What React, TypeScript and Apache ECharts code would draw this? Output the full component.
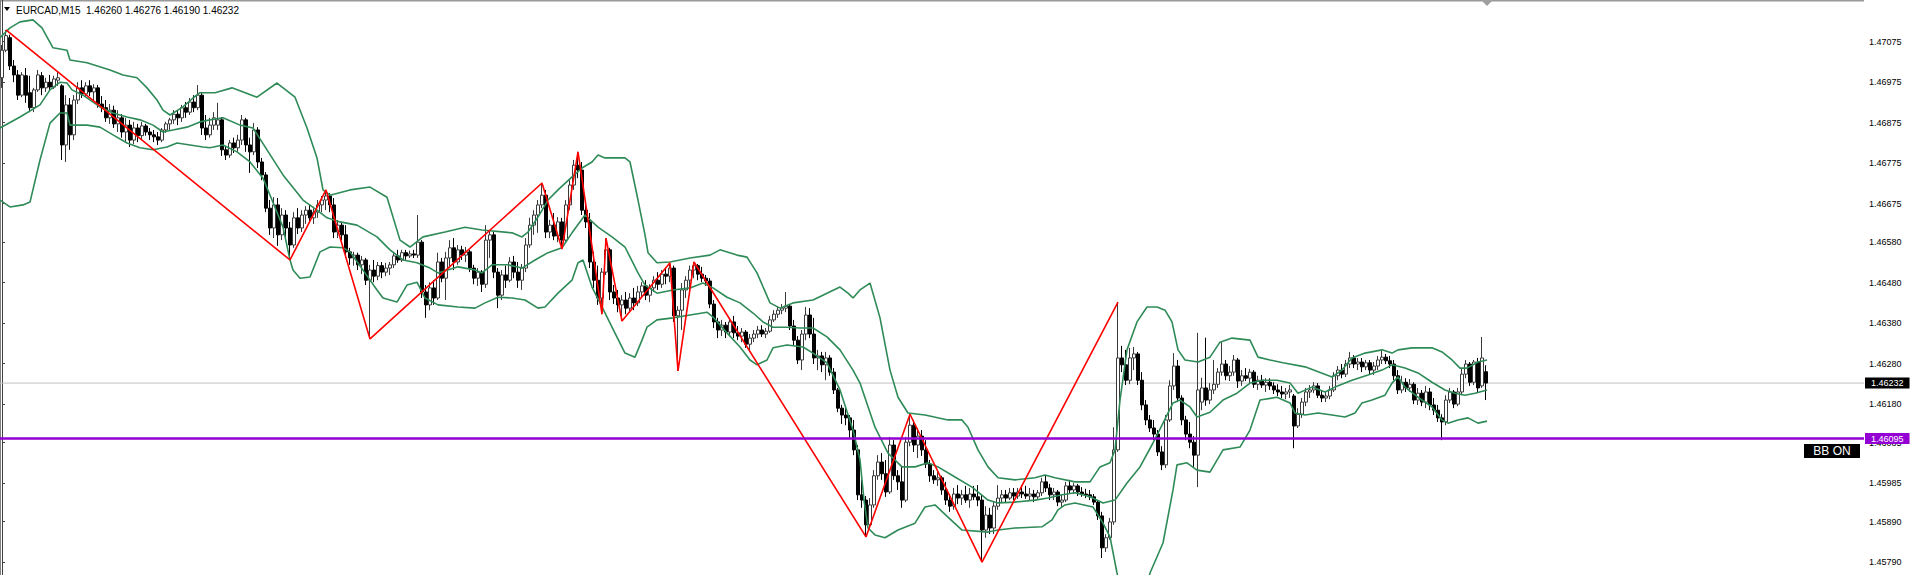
import React, { useEffect, useRef } from "react";
import * as echarts from "echarts";

const chartTitle = "EURCAD,M15  1.46260 1.46276 1.46190 1.46232";
const lastPrice = 1.46232;
const levelPrice = 1.46095;
const levelTag = "BB ON";
const yMin = 1.45758;
const yMax = 1.47178;
const slotCount = 466;
const yTicks = [1.47075, 1.46975, 1.46875, 1.46775, 1.46675, 1.4658, 1.4648, 1.4638, 1.4628, 1.4618, 1.46085, 1.45985, 1.4589, 1.4579];

// [open, high, low, close]
const ohlc: number[][] = [
  [1.46986,1.47067,1.46961,1.47054],[1.47054,1.47104,1.47049,1.47090],[1.47085,1.47092,1.47005,1.47015],[1.47015,1.47030,1.46975,1.46993],
  [1.46993,1.47005,1.46931,1.46943],[1.46943,1.47000,1.46938,1.46993],[1.46991,1.47010,1.46924,1.46943],[1.46949,1.46991,1.46901,1.46912],
  [1.46912,1.46961,1.46901,1.46956],[1.46956,1.47005,1.46951,1.46993],[1.46991,1.47000,1.46943,1.46961],[1.46961,1.46986,1.46951,1.46975],
  [1.46975,1.46993,1.46956,1.46963],[1.46963,1.46991,1.46958,1.46983],[1.46980,1.47000,1.46966,1.46986],[1.46966,1.46970,1.46783,1.46820],
  [1.46820,1.46943,1.46778,1.46919],[1.46919,1.46936,1.46808,1.46845],[1.46845,1.46943,1.46832,1.46931],[1.46931,1.46975,1.46921,1.46961],
  [1.46961,1.46980,1.46936,1.46946],[1.46946,1.46975,1.46938,1.46966],[1.46966,1.46980,1.46941,1.46951],[1.46951,1.46970,1.46931,1.46961],
  [1.46961,1.46968,1.46912,1.46921],[1.46921,1.46941,1.46901,1.46912],[1.46912,1.46931,1.46877,1.46887],[1.46887,1.46921,1.46872,1.46906],
  [1.46906,1.46917,1.46862,1.46872],[1.46872,1.46906,1.46852,1.46887],[1.46887,1.46896,1.46838,1.46852],[1.46852,1.46887,1.46827,1.46869],
  [1.46869,1.46882,1.46815,1.46832],[1.46832,1.46877,1.46822,1.46862],[1.46862,1.46872,1.46827,1.46843],[1.46843,1.46877,1.46832,1.46867],
  [1.46867,1.46872,1.46843,1.46852],[1.46852,1.46862,1.46832,1.46845],[1.46845,1.46857,1.46827,1.46840],[1.46840,1.46852,1.46820,1.46832],
  [1.46832,1.46862,1.46827,1.46857],[1.46857,1.46877,1.46850,1.46872],[1.46872,1.46887,1.46857,1.46882],[1.46882,1.46906,1.46872,1.46896],
  [1.46896,1.46906,1.46869,1.46887],[1.46887,1.46919,1.46877,1.46912],[1.46912,1.46926,1.46887,1.46901],[1.46901,1.46936,1.46894,1.46926],
  [1.46926,1.46943,1.46901,1.46912],[1.46912,1.46968,1.46906,1.46943],[1.46943,1.46951,1.46845,1.46862],[1.46862,1.46894,1.46832,1.46845],
  [1.46845,1.46887,1.46838,1.46869],[1.46869,1.46901,1.46857,1.46887],[1.46869,1.46924,1.46857,1.46882],[1.46882,1.46889,1.46793,1.46808],
  [1.46808,1.46817,1.46783,1.46795],[1.46795,1.46832,1.46788,1.46825],[1.46825,1.46838,1.46800,1.46813],[1.46813,1.46845,1.46803,1.46832],
  [1.46832,1.46894,1.46820,1.46882],[1.46882,1.46887,1.46803,1.46820],[1.46820,1.46838,1.46751,1.46803],[1.46803,1.46874,1.46795,1.46857],
  [1.46857,1.46864,1.46763,1.46778],[1.46778,1.46788,1.46733,1.46746],[1.46746,1.46753,1.46654,1.46664],[1.46664,1.46684,1.46598,1.46615],
  [1.46615,1.46691,1.46590,1.46672],[1.46672,1.46689,1.46571,1.46598],[1.46598,1.46664,1.46585,1.46647],[1.46647,1.46659,1.46590,1.46615],
  [1.46615,1.46630,1.46536,1.46573],[1.46573,1.46654,1.46566,1.46640],[1.46640,1.46664,1.46600,1.46615],[1.46615,1.46659,1.46605,1.46647],
  [1.46647,1.46669,1.46625,1.46659],[1.46659,1.46672,1.46630,1.46640],[1.46640,1.46664,1.46625,1.46654],[1.46654,1.46684,1.46640,1.46672],
  [1.46672,1.46694,1.46654,1.46684],[1.46684,1.46709,1.46659,1.46694],[1.46694,1.46701,1.46654,1.46672],[1.46672,1.46689,1.46590,1.46605],
  [1.46605,1.46635,1.46590,1.46622],[1.46622,1.46630,1.46585,1.46598],[1.46598,1.46622,1.46541,1.46556],[1.46556,1.46566,1.46524,1.46541],
  [1.46541,1.46556,1.46522,1.46548],[1.46548,1.46554,1.46511,1.46524],[1.46524,1.46546,1.46501,1.46536],[1.46536,1.46541,1.46474,1.46486],
  [1.46486,1.46524,1.46341,1.46511],[1.46511,1.46536,1.46481,1.46496],[1.46496,1.46531,1.46486,1.46522],[1.46522,1.46531,1.46491,1.46506],
  [1.46506,1.46529,1.46496,1.46516],[1.46516,1.46531,1.46499,1.46524],[1.46524,1.46556,1.46516,1.46546],[1.46546,1.46561,1.46529,1.46536],
  [1.46536,1.46561,1.46531,1.46554],[1.46554,1.46561,1.46536,1.46546],[1.46546,1.46559,1.46541,1.46551],[1.46551,1.46561,1.46541,1.46548],
  [1.46548,1.46647,1.46541,1.46580],[1.46580,1.46585,1.46442,1.46457],[1.46457,1.46474,1.46393,1.46425],[1.46425,1.46481,1.46412,1.46467],
  [1.46467,1.46486,1.46425,1.46442],[1.46442,1.46554,1.46437,1.46531],[1.46531,1.46541,1.46481,1.46491],[1.46491,1.46556,1.46437,1.46541],
  [1.46541,1.46585,1.46516,1.46566],[1.46566,1.46590,1.46511,1.46531],[1.46531,1.46573,1.46524,1.46561],[1.46561,1.46571,1.46536,1.46548],
  [1.46548,1.46568,1.46531,1.46556],[1.46556,1.46561,1.46506,1.46516],[1.46516,1.46524,1.46476,1.46491],[1.46491,1.46516,1.46472,1.46506],
  [1.46506,1.46511,1.46457,1.46476],[1.46476,1.46622,1.46467,1.46585],[1.46585,1.46610,1.46541,1.46598],[1.46598,1.46605,1.46491,1.46506],
  [1.46506,1.46516,1.46417,1.46449],[1.46449,1.46511,1.46437,1.46499],[1.46499,1.46522,1.46467,1.46486],[1.46486,1.46543,1.46481,1.46531],
  [1.46531,1.46546,1.46491,1.46506],[1.46506,1.46531,1.46467,1.46486],[1.46486,1.46526,1.46462,1.46516],[1.46516,1.46590,1.46506,1.46573],
  [1.46573,1.46640,1.46566,1.46622],[1.46622,1.46659,1.46598,1.46647],[1.46647,1.46684,1.46603,1.46672],[1.46672,1.46726,1.46664,1.46696],
  [1.46696,1.46709,1.46590,1.46605],[1.46605,1.46635,1.46590,1.46622],[1.46622,1.46652,1.46585,1.46595],[1.46595,1.46642,1.46580,1.46630],
  [1.46630,1.46640,1.46563,1.46585],[1.46585,1.46684,1.46580,1.46672],[1.46672,1.46733,1.46659,1.46721],[1.46721,1.46783,1.46709,1.46770],
  [1.46770,1.46803,1.46738,1.46758],[1.46758,1.46778,1.46647,1.46659],[1.46659,1.46672,1.46615,1.46630],[1.46630,1.46652,1.46516,1.46531],
  [1.46531,1.46556,1.46467,1.46486],[1.46486,1.46522,1.46425,1.46442],[1.46442,1.46516,1.46402,1.46506],[1.46506,1.46590,1.46499,1.46561],
  [1.46561,1.46566,1.46437,1.46457],[1.46457,1.46474,1.46427,1.46442],[1.46442,1.46462,1.46407,1.46425],[1.46425,1.46449,1.46385,1.46437],
  [1.46437,1.46457,1.46402,1.46417],[1.46417,1.46454,1.46407,1.46442],[1.46442,1.46467,1.46412,1.46430],[1.46430,1.46472,1.46422,1.46457],
  [1.46457,1.46481,1.46442,1.46472],[1.46472,1.46486,1.46437,1.46449],[1.46449,1.46476,1.46432,1.46467],[1.46467,1.46496,1.46457,1.46486],
  [1.46486,1.46506,1.46462,1.46476],[1.46476,1.46511,1.46467,1.46501],[1.46501,1.46516,1.46476,1.46496],[1.46496,1.46529,1.46481,1.46516],
  [1.46516,1.46522,1.46383,1.46398],[1.46398,1.46422,1.46262,1.46412],[1.46412,1.46479,1.46363,1.46462],[1.46462,1.46496,1.46442,1.46486],
  [1.46486,1.46522,1.46462,1.46511],[1.46511,1.46531,1.46491,1.46522],[1.46522,1.46526,1.46486,1.46501],[1.46501,1.46519,1.46481,1.46491],
  [1.46491,1.46499,1.46472,1.46484],[1.46484,1.46491,1.46417,1.46427],[1.46427,1.46437,1.46368,1.46383],[1.46383,1.46393,1.46343,1.46363],
  [1.46363,1.46388,1.46348,1.46375],[1.46375,1.46383,1.46343,1.46358],[1.46358,1.46393,1.46348,1.46383],[1.46383,1.46398,1.46343,1.46356],
  [1.46356,1.46373,1.46338,1.46348],[1.46348,1.46368,1.46333,1.46358],[1.46358,1.46363,1.46319,1.46328],[1.46328,1.46353,1.46314,1.46343],
  [1.46343,1.46363,1.46333,1.46353],[1.46353,1.46373,1.46343,1.46363],[1.46363,1.46375,1.46346,1.46353],[1.46353,1.46368,1.46343,1.46360],
  [1.46360,1.46398,1.46356,1.46388],[1.46388,1.46412,1.46383,1.46402],[1.46402,1.46422,1.46393,1.46412],[1.46412,1.46427,1.46402,1.46417],
  [1.46417,1.46457,1.46407,1.46422],[1.46422,1.46427,1.46363,1.46373],[1.46373,1.46388,1.46326,1.46338],[1.46338,1.46348,1.46279,1.46289],
  [1.46289,1.46363,1.46264,1.46353],[1.46353,1.46420,1.46338,1.46400],[1.46400,1.46417,1.46343,1.46353],[1.46353,1.46393,1.46279,1.46294],
  [1.46294,1.46314,1.46264,1.46299],[1.46299,1.46309,1.46259,1.46277],[1.46277,1.46309,1.46239,1.46294],[1.46294,1.46301,1.46250,1.46259],
  [1.46259,1.46269,1.46205,1.46215],[1.46215,1.46220,1.46160,1.46170],[1.46170,1.46178,1.46131,1.46153],[1.46153,1.46170,1.46128,1.46146],
  [1.46146,1.46153,1.46097,1.46116],[1.46116,1.46141,1.46054,1.46067],[1.46067,1.46079,1.45943,1.45956],[1.45956,1.45993,1.45924,1.45943],
  [1.45943,1.45953,1.45852,1.45882],[1.45882,1.45948,1.45869,1.45931],[1.45931,1.46017,1.45924,1.46003],[1.46003,1.46054,1.45993,1.46037],
  [1.46037,1.46059,1.45993,1.46008],[1.46008,1.46042,1.45951,1.45963],[1.45963,1.46099,1.45958,1.46079],[1.46079,1.46091,1.45993,1.46003],
  [1.46003,1.46017,1.45968,1.45988],[1.45988,1.46025,1.45924,1.45943],[1.45943,1.46099,1.45938,1.46086],[1.46086,1.46155,1.46076,1.46128],
  [1.46128,1.46141,1.46062,1.46079],[1.46079,1.46121,1.46047,1.46101],[1.46101,1.46116,1.46052,1.46067],[1.46067,1.46091,1.46022,1.46032],
  [1.46032,1.46042,1.45988,1.46003],[1.46003,1.46017,1.45983,1.45993],[1.45993,1.46012,1.45978,1.45998],[1.45998,1.46003,1.45956,1.45968],
  [1.45968,1.45988,1.45931,1.45943],[1.45943,1.45958,1.45914,1.45928],[1.45928,1.45973,1.45919,1.45958],[1.45958,1.45980,1.45933,1.45948],
  [1.45948,1.45968,1.45931,1.45956],[1.45956,1.45978,1.45936,1.45943],[1.45943,1.45973,1.45924,1.45958],[1.45958,1.45978,1.45943,1.45951],
  [1.45951,1.45980,1.45928,1.45943],[1.45943,1.45956,1.45790,1.45869],[1.45869,1.45928,1.45850,1.45906],[1.45906,1.45924,1.45859,1.45874],
  [1.45874,1.45938,1.45859,1.45928],[1.45928,1.45980,1.45919,1.45948],[1.45948,1.45968,1.45936,1.45956],[1.45956,1.45968,1.45938,1.45948],
  [1.45948,1.45973,1.45943,1.45961],[1.45961,1.45973,1.45943,1.45953],[1.45953,1.45973,1.45946,1.45963],[1.45963,1.45980,1.45948,1.45958],
  [1.45958,1.45978,1.45946,1.45953],[1.45953,1.45973,1.45943,1.45958],[1.45958,1.45968,1.45938,1.45951],[1.45951,1.45968,1.45943,1.45961],
  [1.45961,1.45998,1.45953,1.45988],[1.45988,1.46005,1.45963,1.45973],[1.45973,1.45983,1.45943,1.45956],[1.45956,1.45973,1.45943,1.45963],
  [1.45963,1.45968,1.45928,1.45938],[1.45938,1.45956,1.45926,1.45943],[1.45943,1.45988,1.45938,1.45978],[1.45978,1.45993,1.45958,1.45968],
  [1.45968,1.45985,1.45958,1.45978],[1.45978,1.45983,1.45953,1.45963],[1.45963,1.45975,1.45951,1.45958],[1.45958,1.45971,1.45948,1.45956],
  [1.45956,1.45968,1.45943,1.45951],[1.45951,1.45958,1.45931,1.45938],[1.45938,1.45943,1.45894,1.45904],[1.45904,1.45914,1.45800,1.45825],
  [1.45825,1.45859,1.45815,1.45850],[1.45850,1.45899,1.45845,1.45889],[1.45889,1.46123,1.45882,1.46067],[1.46067,1.46432,1.46062,1.46294],
  [1.46294,1.46324,1.46259,1.46277],[1.46277,1.46314,1.46227,1.46239],[1.46239,1.46319,1.46229,1.46294],[1.46294,1.46321,1.46264,1.46304],
  [1.46304,1.46309,1.46227,1.46239],[1.46239,1.46259,1.46165,1.46178],[1.46178,1.46190,1.46128,1.46141],[1.46141,1.46153,1.46111,1.46121],
  [1.46121,1.46141,1.46091,1.46106],[1.46106,1.46116,1.46052,1.46062],[1.46062,1.46076,1.46017,1.46030],[1.46030,1.46153,1.46022,1.46141],
  [1.46141,1.46239,1.46136,1.46225],[1.46225,1.46306,1.46215,1.46274],[1.46274,1.46289,1.46185,1.46195],[1.46195,1.46202,1.46128,1.46141],
  [1.46141,1.46151,1.46091,1.46106],[1.46106,1.46136,1.46071,1.46086],[1.46086,1.46101,1.46025,1.46054],[1.46054,1.46356,1.45975,1.46215],
  [1.46185,1.46245,1.46165,1.46220],[1.46220,1.46344,1.46176,1.46190],[1.46190,1.46232,1.46180,1.46215],[1.46215,1.46289,1.46205,1.46229],
  [1.46229,1.46269,1.46220,1.46259],[1.46259,1.46333,1.46250,1.46279],[1.46279,1.46289,1.46239,1.46250],[1.46250,1.46274,1.46237,1.46259],
  [1.46259,1.46301,1.46250,1.46289],[1.46289,1.46294,1.46220,1.46237],[1.46237,1.46264,1.46225,1.46250],[1.46250,1.46269,1.46237,1.46244],
  [1.46244,1.46267,1.46229,1.46259],[1.46259,1.46264,1.46220,1.46229],[1.46229,1.46250,1.46215,1.46239],[1.46239,1.46252,1.46220,1.46227],
  [1.46227,1.46244,1.46210,1.46234],[1.46234,1.46244,1.46215,1.46225],[1.46225,1.46234,1.46205,1.46215],[1.46215,1.46229,1.46200,1.46210],
  [1.46210,1.46225,1.46195,1.46205],[1.46205,1.46220,1.46192,1.46210],[1.46210,1.46227,1.46195,1.46215],[1.46200,1.46205,1.46071,1.46126],
  [1.46126,1.46170,1.46121,1.46155],[1.46155,1.46195,1.46146,1.46185],[1.46185,1.46220,1.46175,1.46210],[1.46210,1.46227,1.46195,1.46215],
  [1.46215,1.46234,1.46207,1.46225],[1.46225,1.46232,1.46195,1.46202],[1.46202,1.46215,1.46185,1.46195],[1.46195,1.46210,1.46185,1.46200],
  [1.46200,1.46225,1.46192,1.46215],[1.46215,1.46259,1.46210,1.46250],[1.46250,1.46274,1.46239,1.46264],[1.46264,1.46279,1.46244,1.46254],
  [1.46254,1.46289,1.46247,1.46279],[1.46279,1.46309,1.46269,1.46294],[1.46294,1.46301,1.46269,1.46279],[1.46279,1.46294,1.46264,1.46284],
  [1.46284,1.46294,1.46259,1.46272],[1.46272,1.46289,1.46264,1.46282],[1.46282,1.46289,1.46254,1.46264],[1.46264,1.46284,1.46252,1.46274],
  [1.46274,1.46299,1.46264,1.46289],[1.46289,1.46314,1.46279,1.46296],[1.46296,1.46304,1.46279,1.46287],[1.46287,1.46299,1.46269,1.46279],
  [1.46279,1.46289,1.46239,1.46250],[1.46250,1.46264,1.46205,1.46215],[1.46215,1.46250,1.46207,1.46234],[1.46234,1.46244,1.46210,1.46220],
  [1.46220,1.46242,1.46210,1.46229],[1.46229,1.46234,1.46180,1.46190],[1.46190,1.46220,1.46178,1.46207],[1.46207,1.46215,1.46175,1.46185],
  [1.46185,1.46225,1.46170,1.46210],[1.46210,1.46220,1.46165,1.46178],[1.46178,1.46195,1.46153,1.46165],[1.46165,1.46178,1.46136,1.46146],
  [1.46146,1.46155,1.46091,1.46136],[1.46136,1.46202,1.46128,1.46190],[1.46190,1.46220,1.46183,1.46210],[1.46210,1.46215,1.46170,1.46180],
  [1.46180,1.46220,1.46175,1.46210],[1.46210,1.46269,1.46202,1.46254],[1.46254,1.46289,1.46244,1.46279],[1.46279,1.46284,1.46225,1.46234],
  [1.46234,1.46289,1.46227,1.46284],[1.46284,1.46294,1.46210,1.46220],[1.46225,1.46346,1.46220,1.46294],[1.46260,1.46276,1.46190,1.46232],
];

// Bollinger bands, read as [bar index, price]
const upperBand: number[][] = [
  [-0.5,1.47085],[2,1.47109],[4.5,1.47124],[7.75,1.47129],[10,1.47109],[12.75,1.4706],[16.25,1.47054],[17,1.4703],[21.25,1.47023],[27,1.47005],
  [30.25,1.46993],[33.75,1.46986],[36.25,1.46961],[38.75,1.46931],[40.25,1.46906],[42,1.46894],[45.25,1.46914],[47.75,1.46936],[49.5,1.46949],[53.25,1.46949],
  [57.5,1.46961],[63.75,1.46938],[68.75,1.46973],[73.25,1.46938],[76.25,1.46862],[78.75,1.46788],[80.25,1.46709],[82,1.46696],[87,1.46709],[92,1.46716],
  [96.25,1.46691],[97.75,1.46642],[99.5,1.46585],[102,1.46568],[105.25,1.46593],[110.75,1.46605],[115.75,1.46617],[120,1.4661],[127.5,1.46603],[130,1.46593],
  [131.5,1.46605],[134,1.46642],[136.5,1.46684],[139,1.46709],[142.5,1.46741],[145,1.46763],[147.5,1.46778],[149,1.46795],[150.75,1.46788],[155.75,1.46788],
  [157,1.46778],[159,1.46684],[160.75,1.46598],[161.5,1.46554],[163.75,1.46529],[167,1.46531],[172,1.46541],[177,1.46548],[179.5,1.46561],[183.75,1.46548],
  [186.25,1.46543],[188.75,1.46504],[192,1.4643],[194.5,1.46417],[197.75,1.4643],[202.75,1.46437],[206.25,1.46454],[209.5,1.46469],[211.5,1.46454],[212.75,1.46442],
  [214.5,1.46462],[217,1.46479],[219.5,1.46393],[222,1.46264],[224,1.46197],[226.5,1.46158],[230.75,1.46153],[236.5,1.46141],[240,1.46141],[241.5,1.46123],
  [244,1.46067],[246.5,1.46025],[249,1.45998],[253.25,1.45993],[258.25,1.45998],[260.75,1.46005],[263.25,1.45998],[268.25,1.45988],[272,1.45988],[274.5,1.46025],
  [277,1.46035],[278.25,1.46067],[279.5,1.4619],[281.25,1.46314],[283.75,1.46383],[286.25,1.4642],[288.75,1.4642],[290.75,1.46412],[292.5,1.46383],[294,1.46314],
  [295.75,1.46289],[299,1.46284],[302,1.46296],[304.5,1.46333],[307.5,1.46343],[312,1.46338],[314,1.46296],[317,1.46289],[320.25,1.46282],[325.75,1.46272],
  [332.5,1.46247],[335,1.46264],[337.5,1.46294],[340.75,1.46306],[345,1.46314],[347.5,1.46306],[349,1.46314],[352.5,1.46319],[357.5,1.46319],[360,1.46309],
  [362.5,1.46289],[364.5,1.46269],[366.25,1.46269],[369,1.46284],[371.25,1.46289],
];

const middleBand: number[][] = [
  [-0.5,1.46862],[4.5,1.46889],[9.5,1.46919],[12,1.46956],[14.5,1.46975],[16.25,1.46973],[17.5,1.46956],[20.25,1.46943],[24.5,1.46914],[27.75,1.46899],
  [31.25,1.46889],[34.5,1.46882],[37.75,1.46869],[40.25,1.46852],[42.75,1.46857],[46.25,1.46864],[49.5,1.46877],[52,1.46882],[55.25,1.46887],[59.5,1.46869],
  [62.75,1.46862],[66.25,1.46808],[70.25,1.46746],[75.25,1.46684],[78.75,1.46659],[81.25,1.4664],[84.5,1.4663],[88.75,1.46622],[93.75,1.46593],[97,1.46561],
  [100.25,1.46536],[103.75,1.46529],[107,1.46516],[109,1.46504],[114,1.46519],[118.25,1.46511],[120,1.46504],[122.5,1.46524],[126.5,1.46524],[130,1.46516],
  [133.25,1.46536],[136.5,1.46554],[140,1.46566],[142.5,1.46603],[145.75,1.46647],[149,1.46617],[152.5,1.46593],[155.75,1.46568],[159,1.46504],[160.75,1.46474],
  [163.75,1.46454],[167.75,1.46462],[172,1.46467],[175.25,1.46479],[177.75,1.46467],[181.25,1.46444],[184.5,1.4643],[187.75,1.46405],[190.25,1.46383],[192.75,1.4637],
  [196.25,1.4637],[199.5,1.46368],[202.75,1.46368],[206.25,1.46346],[209.5,1.46314],[212.75,1.46264],[214.5,1.46232],[218.25,1.46123],[221.5,1.46059],[225,1.46025],
  [228.25,1.46025],[231.5,1.46035],[234,1.46025],[238.25,1.46],[242.5,1.45975],[246.5,1.45943],[249,1.45936],[253.25,1.45938],[258.25,1.45943],[261.5,1.45948],
  [265,1.45956],[268.25,1.45961],[272,1.45951],[275.25,1.45936],[278.25,1.45943],[281.25,1.45985],[284.5,1.46025],[287.75,1.46084],[290.25,1.46133],[292.75,1.46183],
  [294.5,1.4619],[297,1.46173],[298.75,1.46148],[302,1.4616],[305.25,1.4619],[308.75,1.46207],[312,1.46232],[315.25,1.46239],[318.75,1.46239],[322,1.46232],
  [324,1.46207],[327.5,1.46222],[330.75,1.4621],[333.25,1.46222],[337.5,1.46239],[341.5,1.46252],[345,1.46264],[347.5,1.46277],[350.75,1.46269],[354,1.46257],
  [357.5,1.46234],[360.75,1.46215],[363.25,1.46207],[365.75,1.46202],[368.25,1.46207],[371.25,1.46215],
];

const lowerBand: number[][] = [
  [-0.5,1.46684],[2,1.46667],[5.25,1.46672],[7,1.46679],[9.5,1.46783],[12,1.46874],[14.5,1.46899],[16.25,1.46899],[17,1.46869],[21.25,1.46869],
  [24.5,1.46864],[27.75,1.46845],[31.25,1.46825],[34.5,1.46813],[37.75,1.46808],[41.25,1.46815],[43.75,1.46825],[47,1.4682],[50.25,1.46815],[52,1.46813],
  [55.25,1.4682],[58.75,1.46803],[62,1.46778],[65.25,1.46738],[68.75,1.46654],[70.25,1.46617],[72,1.46536],[72.75,1.46511],[74.5,1.46491],[77,1.46494],
  [79.5,1.46556],[82,1.46568],[85.25,1.46566],[87,1.46556],[90.25,1.46511],[93.75,1.46462],[95.25,1.46442],[98.75,1.46432],[101.25,1.46474],[103.75,1.46481],
  [105.75,1.46442],[109,1.46425],[114,1.4642],[118.25,1.46417],[120.75,1.4643],[124,1.46444],[127.5,1.46442],[130.75,1.46437],[134,1.46417],[135.75,1.4642],
  [139,1.46454],[142.5,1.46486],[144,1.46529],[145.25,1.46536],[147.5,1.46469],[150,1.4642],[152.5,1.4637],[155.75,1.46306],[158.25,1.46296],[160,1.46338],
  [161.25,1.4637],[163.75,1.46388],[167.75,1.46393],[172,1.464],[176.25,1.46407],[177.75,1.46395],[181.25,1.46356],[184.5,1.46321],[187,1.46289],[188.75,1.46277],
  [191.25,1.46289],[192.75,1.46319],[196.25,1.46326],[200.25,1.46321],[202.75,1.46306],[206.25,1.46282],[209.5,1.46215],[212.75,1.46116],[214.5,1.46042],[215.5,1.45943],
  [216.5,1.45874],[218.25,1.45857],[220.75,1.4585],[224,1.45869],[228.25,1.45886],[230.75,1.45926],[233.25,1.45931],[236.5,1.45901],[240,1.45869],[246.5,1.45864],
  [249,1.45869],[253.25,1.45874],[260,1.45877],[262.5,1.45894],[264,1.45919],[265.75,1.45931],[268.25,1.45936],[272.75,1.45926],[275.25,1.45886],[277,1.45852],
  [278.75,1.45763],[280.75,1.45684],[283.25,1.45666],[285.75,1.45708],[287,1.45763],[290.25,1.45837],[292.75,1.45968],[293.75,1.4603],[296.25,1.46035],[298.75,1.46017],
  [302,1.46012],[305.25,1.46067],[309.5,1.46074],[312,1.46116],[314.5,1.4619],[318.75,1.46197],[322,1.46183],[323.25,1.46158],[325.75,1.46153],[329,1.46158],
  [332.5,1.46153],[335.75,1.46148],[338.25,1.46158],[340,1.46183],[342.5,1.4619],[345.75,1.46202],[347.5,1.46232],[349,1.46247],[350.75,1.46222],[354,1.46197],
  [357.5,1.46173],[360,1.46141],[361.5,1.46133],[364,1.46141],[366.5,1.46146],[369,1.46133],[371.25,1.46138],
];

const zigzag: number[][] = [
  [1,1.47104],[72,1.46536],[81,1.46709],[92,1.46341],[135,1.46726],[140,1.46563],[144,1.46803],[150,1.46402],[151,1.4659],
  [155,1.46385],[167,1.46529],[169,1.46262],[173,1.46531],[216,1.45852],[227,1.46155],[245,1.4579],[279,1.46432],
];

const categories = Array.from({ length: slotCount }, (_, i) => String(i));

const FONT = "'Liberation Sans', Arial, sans-serif";

export default function App() {
  const ref = useRef<HTMLDivElement>(null);

  useEffect(() => {
    document.body.style.margin = "0";
    document.body.style.overflow = "hidden";
    if (!ref.current) return;
    const chart = echarts.init(ref.current, null, { renderer: "svg" });

    const candleData = ohlc.map(([o, h, l, c]) => [o, c, l, h]);
    const bandLine = (data: number[][], name: string) => ({
      type: "line",
      name,
      xAxisIndex: 1,
      data,
      symbol: "none",
      smooth: false,
      silent: true,
      clip: true,
      lineStyle: { color: "#2e8b57", width: 1.6 },
      z: 3,
    });

    const levelLine = (price: number, color: string, width: number, tagBg: string, z: number) => ({
      type: "line",
      xAxisIndex: 1,
      data: [
        [-0.5, price],
        [slotCount - 0.5, price],
      ],
      symbol: "none",
      silent: true,
      clip: false,
      lineStyle: { color, width, type: "solid" },
      endLabel: {
        show: true,
        formatter: price.toFixed(5),
        backgroundColor: tagBg,
        color: "#ffffff",
        fontSize: 9,
        fontFamily: FONT,
        padding: [1, 6, 1, 6],
        lineHeight: 9,
        distance: 1,
      },
      z,
    });

    chart.setOption({
      animation: false,
      grid: { left: 0, right: 51, top: 0, bottom: 0, containLabel: false },
      xAxis: [
        { type: "category", data: categories, show: false, boundaryGap: true },
        { type: "value", min: -0.5, max: slotCount - 0.5, show: false },
      ],
      yAxis: {
        type: "value",
        position: "right",
        min: yMin,
        max: yMax,
        scale: true,
        splitLine: { show: false },
        axisLine: { show: true, lineStyle: { color: "#404040", width: 1 } },
        axisTick: { show: true, length: 3, inside: false, customValues: yTicks, lineStyle: { color: "#404040" } },
        axisLabel: {
          customValues: yTicks,
          formatter: (v: number) => v.toFixed(5),
          fontSize: 9,
          fontFamily: FONT,
          color: "#000000",
          margin: 5,
        },
      },
      series: [
        levelLine(lastPrice, "#c0c0c0", 1, "#000000", 1),
        {
          type: "candlestick",
          data: candleData,
          barWidth: 3,
          silent: true,
          itemStyle: {
            color: "#ffffff",
            color0: "#000000",
            borderColor: "#3a3a3a",
            borderColor0: "#000000",
            borderWidth: 1,
          },
          z: 2,
        },
        bandLine(upperBand, "upper"),
        bandLine(middleBand, "middle"),
        bandLine(lowerBand, "lower"),
        {
          type: "line",
          name: "zigzag",
          xAxisIndex: 1,
          data: zigzag,
          symbol: "none",
          silent: true,
          lineStyle: { color: "#ff0000", width: 1.6 },
          z: 4,
        },
        levelLine(levelPrice, "#9400d3", 2.5, "#9400d3", 5),
      ],
      graphic: [
        { type: "line", silent: true, shape: { x1: 0, y1: 0.5, x2: 1864, y2: 0.5 }, style: { stroke: "#9a9a9a", lineWidth: 2 } },
        { type: "line", silent: true, shape: { x1: 0.5, y1: 0, x2: 0.5, y2: 575 }, style: { stroke: "#808080", lineWidth: 1 } },
        { type: "polygon", silent: true, shape: { points: [[1481, 0], [1493, 0], [1487, 6]] }, style: { fill: "#a0a0a0" } },
        { type: "polygon", silent: true, shape: { points: [[4, 7], [10, 7], [7, 11]] }, style: { fill: "#000000" } },
        {
          type: "text",
          silent: true,
          x: 16,
          y: 10,
          style: { text: chartTitle, fill: "#000000", fontSize: 10, fontFamily: FONT, verticalAlign: "middle" },
        },
        { type: "rect", silent: true, shape: { x: 1804, y: 444, width: 56, height: 14 }, style: { fill: "#000000" } },
        {
          type: "text",
          silent: true,
          x: 1832,
          y: 451,
          style: { text: levelTag, fill: "#ffffff", fontSize: 12, fontFamily: FONT, align: "center", verticalAlign: "middle" },
        },
      ],
    });

    return () => chart.dispose();
  }, []);

  return <div ref={ref} style={{ width: 1915, height: 575 }} />;
}
